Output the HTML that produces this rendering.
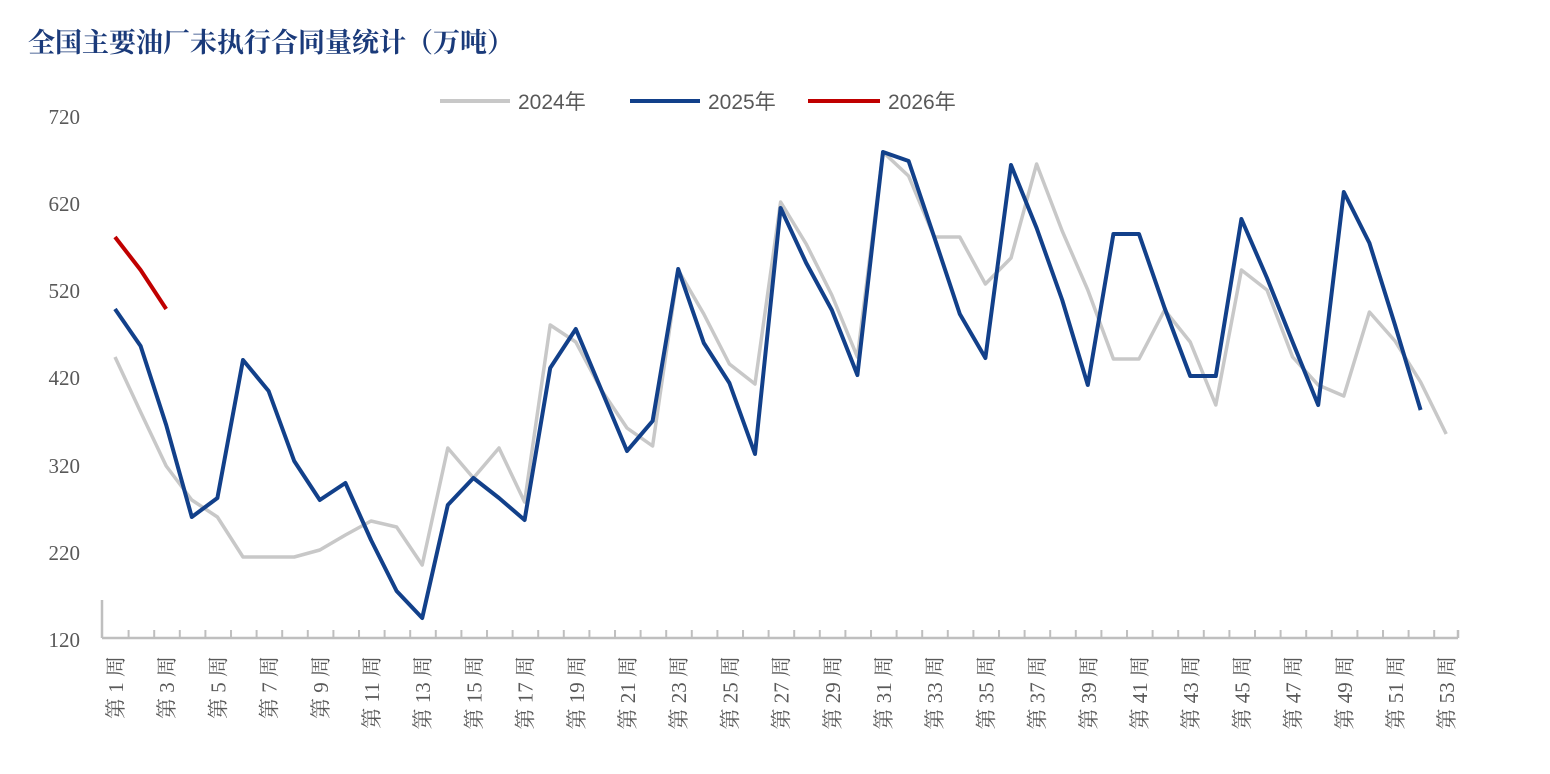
<!DOCTYPE html>
<html><head><meta charset="utf-8"><style>
body{margin:0;background:#fff;}
svg{display:block;font-family:"Liberation Serif","Noto Serif CJK SC",serif;}
</style></head><body>
<svg width="1550" height="774" xmlns="http://www.w3.org/2000/svg">
<defs><pattern id="tk" x="127.6" y="0" width="25.6" height="10" patternUnits="userSpaceOnUse"><rect x="0" y="0" width="2" height="10" fill="#bfbfbf"/></pattern></defs>
<text x="28" y="52" font-size="27" font-weight="bold" fill="#1a3a7a" font-family="'Noto Serif CJK SC',serif">全国主要油厂未执行合同量统计（万吨）</text>
<g font-size="21" fill="#595959" text-anchor="end">
<text x="80" y="124">720</text><text x="80" y="211">620</text><text x="80" y="298">520</text>
<text x="80" y="385">420</text><text x="80" y="473">320</text><text x="80" y="560">220</text><text x="80" y="647">120</text>
</g>
<g font-size="21" fill="#595959" font-family="'Liberation Sans','Noto Sans CJK SC',sans-serif">
<line x1="440" y1="101" x2="510" y2="101" stroke="#c8c8c8" stroke-width="4"/><text x="518" y="109">2024年</text>
<line x1="630" y1="101" x2="700" y2="101" stroke="#12408a" stroke-width="4"/><text x="708" y="109">2025年</text>
<line x1="808" y1="101" x2="880" y2="101" stroke="#c00000" stroke-width="4"/><text x="888" y="109">2026年</text>
</g>
<g stroke="#bfbfbf" stroke-width="2.5" fill="none">
<line x1="102" y1="638" x2="1458" y2="638"/>
<line x1="102" y1="600" x2="102" y2="638"/>
<line x1="1458" y1="630" x2="1458" y2="638"/>
</g>
<rect x="126.6" y="630" width="1320" height="8" fill="url(#tk)"/>
<g font-size="21" fill="#595959" text-anchor="end">
<text transform="translate(123,656) rotate(-90)">第 1 周</text>
<text transform="translate(174.2,656) rotate(-90)">第 3 周</text>
<text transform="translate(225.4,656) rotate(-90)">第 5 周</text>
<text transform="translate(276.6,656) rotate(-90)">第 7 周</text>
<text transform="translate(327.8,656) rotate(-90)">第 9 周</text>
<text transform="translate(379,656) rotate(-90)">第 11 周</text>
<text transform="translate(430.2,656) rotate(-90)">第 13 周</text>
<text transform="translate(481.4,656) rotate(-90)">第 15 周</text>
<text transform="translate(532.6,656) rotate(-90)">第 17 周</text>
<text transform="translate(583.8,656) rotate(-90)">第 19 周</text>
<text transform="translate(635,656) rotate(-90)">第 21 周</text>
<text transform="translate(686.2,656) rotate(-90)">第 23 周</text>
<text transform="translate(737.4,656) rotate(-90)">第 25 周</text>
<text transform="translate(788.6,656) rotate(-90)">第 27 周</text>
<text transform="translate(839.8,656) rotate(-90)">第 29 周</text>
<text transform="translate(891,656) rotate(-90)">第 31 周</text>
<text transform="translate(942.2,656) rotate(-90)">第 33 周</text>
<text transform="translate(993.4,656) rotate(-90)">第 35 周</text>
<text transform="translate(1044.6,656) rotate(-90)">第 37 周</text>
<text transform="translate(1095.8,656) rotate(-90)">第 39 周</text>
<text transform="translate(1147,656) rotate(-90)">第 41 周</text>
<text transform="translate(1198.2,656) rotate(-90)">第 43 周</text>
<text transform="translate(1249.4,656) rotate(-90)">第 45 周</text>
<text transform="translate(1300.6,656) rotate(-90)">第 47 周</text>
<text transform="translate(1351.8,656) rotate(-90)">第 49 周</text>
<text transform="translate(1403,656) rotate(-90)">第 51 周</text>
<text transform="translate(1454.2,656) rotate(-90)">第 53 周</text>
</g>
<polyline fill="none" stroke="#c8c8c8" stroke-width="3.5" stroke-linejoin="round" points="115,357 140.6,412 166.2,466 191.8,500 217.4,517 243,557 268.6,557 294.2,557 319.8,550 345.4,535 371,521 396.6,527 422.2,565 447.8,448 473.4,478 499,448 524.6,502 550.2,325 575.8,342 601.4,390 627,428 652.6,446 678.2,270 703.8,314 729.4,364 755,384 780.6,202 806.2,244 831.8,295 857.4,357 883,152 908.6,176 934.2,237 959.8,237 985.4,284 1011,258 1036.6,164 1062.2,231 1087.8,290 1113.4,359 1139,359 1164.6,310 1190.2,342 1215.8,405 1241.4,270 1267,290 1292.6,357 1318.2,385 1343.8,396 1369.4,312 1395,341 1420.6,382 1446.2,434"/>
<polyline fill="none" stroke="#12408a" stroke-width="4" stroke-linejoin="round" points="115,309 140.6,346 166.2,425 191.8,517 217.4,498 243,360 268.6,391 294.2,461 319.8,500 345.4,483 371,540 396.6,591 422.2,618 447.8,505 473.4,478 499,498 524.6,520 550.2,368 575.8,329 601.4,390 627,451 652.6,421 678.2,269 703.8,343 729.4,383 755,454 780.6,208 806.2,263 831.8,310 857.4,375 883,152 908.6,161 934.2,237 959.8,314 985.4,358 1011,165 1036.6,228 1062.2,300 1087.8,385 1113.4,234 1139,234 1164.6,308 1190.2,376 1215.8,376 1241.4,219 1267,278 1292.6,342 1318.2,405 1343.8,192 1369.4,243 1395,325 1420.6,410"/>
<polyline fill="none" stroke="#c00000" stroke-width="4" stroke-linejoin="round" points="115,237 140.6,270 166.2,309"/>
</svg>
</body></html>
